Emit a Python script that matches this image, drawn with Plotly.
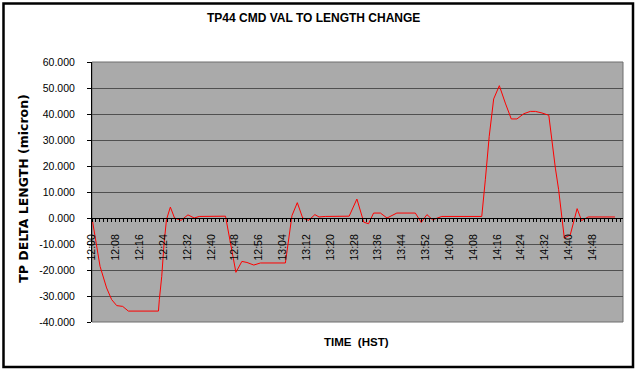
import plotly.graph_objects as go

# ---- data ----
times = ["12:00:00", "12:02:42", "12:04:54", "12:06:36", "12:08:18", "12:10:18", "12:12:12",
         "12:22:18", "12:22:36", "12:23:24", "12:24:12", "12:25:00", "12:26:18", "12:27:42",
         "12:29:54", "12:32:12", "12:34:18", "12:36:00", "12:44:48", "12:48:18", "12:50:18",
         "12:52:00", "12:54:18", "12:56:30", "13:04:54", "13:07:06", "13:08:54", "13:10:42",
         "13:12:42", "13:14:48", "13:16:12", "13:18:18", "13:26:18", "13:28:54", "13:31:12",
         "13:32:48", "13:34:30", "13:36:48", "13:39:00", "13:42:18", "13:48:30", "13:50:30",
         "13:52:24", "13:54:18", "13:57:24", "14:10:48", "14:12:00", "14:13:18", "14:14:48",
         "14:16:42", "14:18:42", "14:20:42", "14:22:36", "14:24:54", "14:27:06", "14:28:48",
         "14:31:00", "14:33:18", "14:35:30", "14:36:36", "14:38:30", "14:40:30", "14:42:48",
         "14:44:18", "14:46:30", "14:55:30"]
delta_length = [0.0, -18.6, -26.9, -31.4, -33.7, -34.0, -35.8,
                -35.8, -31.4, -22.5, -9.6, -0.6, 4.2, 0.0,
                -0.9, 1.2, 0.0, 0.6, 0.7, -20.9, -16.7,
                -17.1, -18.1, -17.3, -17.3, 0.9, 5.9, 0.0,
                -0.9, 1.3, 0.4, 0.6, 0.7, 7.3, -1.6,
                -2.2, 1.9, 1.9, 0.0, 1.9, 1.9, -1.7,
                1.3, -0.7, 0.6, 0.6, 14.7, 31.4, 45.8,
                50.9, 44.2, 38.1, 38.1, 40.1, 41.0, 41.0,
                40.4, 39.5, 19.2, 10.9, -7.7, -6.5, 3.6,
                -1.0, 0.4, 0.4]
x_tick_labels = ["12:00", "12:08", "12:16", "12:24", "12:32", "12:40", "12:48", "12:56",
                 "13:04", "13:12", "13:20", "13:28", "13:36", "13:44", "13:52", "14:00",
                 "14:08", "14:16", "14:24", "14:32", "14:40", "14:48"]
y_tick_values = [-40, -30, -20, -10, 0, 10, 20, 30, 40, 50, 60]


def to_minutes(s):
    parts = [int(p) for p in s.split(":")]
    h, m = parts[0], parts[1]
    sec = parts[2] if len(parts) > 2 else 0
    return (h - 12) * 60 + m + sec / 60.0


x_vals = [to_minutes(t) for t in times]
x_ticks = [to_minutes(t) for t in x_tick_labels]
y_tick_text = [f"{v:.3f}" for v in y_tick_values]

FONT = "Liberation Sans, Arial, sans-serif"
W, H = 642, 374
L, R, T, B = 92, 19, 62, 51.5
pw, ph = W - L - R, H - T - B


def px(xp):
    return (xp - L) / pw


def py(yp):
    return (H - B - yp) / ph


fig = go.Figure()
fig.add_trace(go.Scatter(x=x_vals, y=delta_length, mode="lines",
                         line=dict(color="#ff0000", width=1), hoverinfo="skip"))

fig.update_layout(
    width=W, height=H,
    margin=dict(l=L, r=R, t=T, b=B),
    paper_bgcolor="white",
    plot_bgcolor="#aaaaaa",
    showlegend=False,
    font=dict(family=FONT, color="black", size=10.5),
    xaxis=dict(
        range=[0, 178.2],
        anchor="free", position=0.4,
        tickmode="array", tickvals=x_ticks, ticktext=x_tick_labels,
        tickangle=-90,
        ticks="outside", ticklen=3, tickcolor="black", tickwidth=1,
        ticklabelstandoff=8,
        minor=dict(tickmode="linear", tick0=0, dtick=4 / 3, ticks="outside",
                   ticklen=3, tickcolor="black", tickwidth=1, showgrid=False),
        showline=True, linecolor="black", linewidth=1,
        showgrid=False, zeroline=False,
        tickfont=dict(size=10.5, family=FONT),
    ),
    yaxis=dict(
        range=[-40, 60],
        tickmode="array", tickvals=y_tick_values, ticktext=y_tick_text,
        ticks="outside", ticklen=4, tickcolor="black",
        ticklabelstandoff=10,
        showline=True, linecolor="black", linewidth=1,
        showgrid=True, gridcolor="#505050", gridwidth=1,
        zeroline=False,
        tickfont=dict(size=10.5, family=FONT),
    ),
)

# plot-area frame (top, right, bottom)
fig.add_shape(type="rect", xref="paper", yref="paper", x0=0, x1=1, y0=0, y1=1,
              line=dict(color="#6e6e6e", width=1), layer="below")
# chart outer border
fig.add_shape(type="rect", xref="paper", yref="paper",
              x0=px(3.5), x1=px(633), y0=py(367.5), y1=py(3.5),
              line=dict(color="black", width=2.5))

fig.add_annotation(text="<b>TP44 CMD VAL TO LENGTH CHANGE</b>", xref="paper", yref="paper",
                   x=px(313), y=py(18), showarrow=False, xanchor="center", yanchor="middle",
                   font=dict(size=12, family=FONT, color="black"))
fig.add_annotation(text="<b>TIME  (HST)</b>", xref="paper", yref="paper",
                   x=px(356), y=py(343), showarrow=False, xanchor="center", yanchor="middle",
                   font=dict(size=11.5, family=FONT, color="black"))
fig.add_annotation(text="<b>TP DELTA LENGTH (micron)</b>", xref="paper", yref="paper",
                   x=px(24), y=py(189), showarrow=False, textangle=-90,
                   xanchor="center", yanchor="middle",
                   font=dict(size=12.5, family="DejaVu Sans, sans-serif", color="black"))

fig.write_html("out.html", config={"displayModeBar": False},
               post_script="document.body.style.margin='0';")
